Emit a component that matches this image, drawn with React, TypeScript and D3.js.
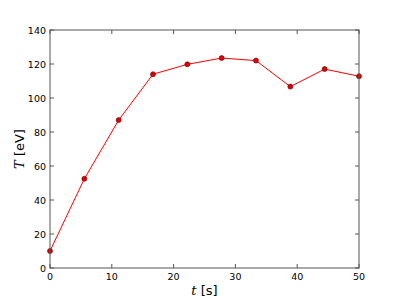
import { useEffect, useRef } from "react";
import * as d3 from "d3";

// time samples (s) and temperature (eV)
const TIMES = [0, 5.56, 11.11, 16.67, 22.22, 27.78, 33.33, 38.89, 44.44, 50];
const TEMPS = [10, 52.5, 87, 114, 119.8, 123.5, 122, 106.7, 117, 112.8];

const X_TICKS = [0, 10, 20, 30, 40, 50];
const Y_TICKS = [0, 20, 40, 60, 80, 100, 120, 140];

export default function App() {
  const svgRef = useRef<SVGSVGElement | null>(null);

  useEffect(() => {
    const width = 399;
    const height = 299;
    const margin = { top: 30, right: 40, bottom: 31, left: 50 };
    const innerW = width - margin.left - margin.right;
    const innerH = height - margin.top - margin.bottom;

    const svg = d3.select(svgRef.current);
    svg.selectAll("*").remove();

    const g = svg.append("g")
      .attr("transform", `translate(${margin.left},${margin.top})`);

    const x = d3.scaleLinear().domain([0, 50]).range([0, innerW]);
    const y = d3.scaleLinear().domain([0, 140]).range([innerH, 0]);

    const frame = "#555";
    const tickLen = 4;
    const font = "DejaVu Sans, sans-serif";

    // ----- data line + markers (drawn first so the frame sits on top) -----
    const pts = TIMES.map((t, i) => ({ t, v: TEMPS[i] }));
    const line = d3.line<{ t: number; v: number }>()
      .x((d) => x(d.t))
      .y((d) => y(d.v));

    g.append("path")
      .datum(pts)
      .attr("fill", "none")
      .attr("stroke", "#ff0000")
      .attr("stroke-width", 1)
      .attr("d", line);

    g.selectAll("circle.pt")
      .data(pts)
      .join("circle")
      .attr("class", "pt")
      .attr("cx", (d) => x(d.t))
      .attr("cy", (d) => y(d.v))
      .attr("r", 2.5)
      .attr("fill", "#e00000")
      .attr("stroke", "#600")
      .attr("stroke-width", 0.6);

    // ----- frame -----
    g.append("rect")
      .attr("x", 0).attr("y", 0)
      .attr("width", innerW).attr("height", innerH)
      .attr("fill", "none")
      .attr("stroke", frame)
      .attr("stroke-width", 1);

    // ----- ticks (inward, on all four sides) -----
    X_TICKS.forEach((t) => {
      const px = x(t);
      g.append("line").attr("x1", px).attr("x2", px)
        .attr("y1", innerH).attr("y2", innerH - tickLen)
        .attr("stroke", frame);
      g.append("line").attr("x1", px).attr("x2", px)
        .attr("y1", 0).attr("y2", tickLen)
        .attr("stroke", frame);
      g.append("text")
        .attr("x", px).attr("y", innerH + 12)
        .attr("text-anchor", "middle")
        .attr("font-family", font)
        .attr("font-size", "9.5px")
        .attr("fill", "#000")
        .text(t);
    });

    Y_TICKS.forEach((v) => {
      const py = y(v);
      g.append("line").attr("x1", 0).attr("x2", tickLen)
        .attr("y1", py).attr("y2", py)
        .attr("stroke", frame);
      g.append("line").attr("x1", innerW).attr("x2", innerW - tickLen)
        .attr("y1", py).attr("y2", py)
        .attr("stroke", frame);
      g.append("text")
        .attr("x", -4).attr("y", py + 3.5)
        .attr("text-anchor", "end")
        .attr("font-family", font)
        .attr("font-size", "9.5px")
        .attr("fill", "#000")
        .text(v);
    });

    // ----- axis labels -----
    const xl = g.append("text")
      .attr("x", innerW / 2)
      .attr("y", innerH + 27)
      .attr("text-anchor", "middle")
      .attr("font-family", font)
      .attr("font-size", "13px");
    xl.append("tspan").attr("font-family", "DejaVu Serif, serif")
      .attr("font-style", "italic").text("t");
    xl.append("tspan").text(" [s]");

    const yl = g.append("text")
      .attr("transform", "rotate(-90)")
      .attr("x", -innerH / 2)
      .attr("y", -26)
      .attr("text-anchor", "middle")
      .attr("font-family", font)
      .attr("font-size", "13px");
    yl.append("tspan").attr("font-family", "DejaVu Serif, serif")
      .attr("font-style", "italic").text("T");
    yl.append("tspan").text(" [eV]");
  }, []);

  return (
    <svg
      ref={svgRef}
      width={399}
      height={299}
      style={{ position: "absolute", left: 0, top: 0, background: "#fff" }}
    />
  );
}
